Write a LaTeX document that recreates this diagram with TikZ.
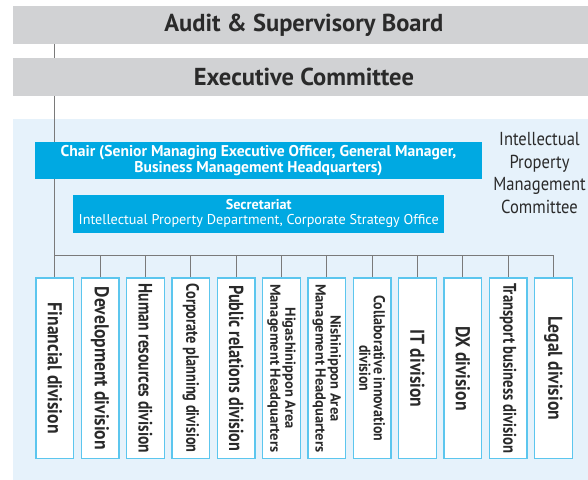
\documentclass[tikz,border=0pt]{standalone}
\usepackage{fontspec}
\setmainfont{PT Sans}[FakeStretch=0.88]
\newfontfamily\plainsans{PT Sans}
\newfontfamily\tightsans{PT Sans}[FakeStretch=0.80]
\usepackage{xcolor}
\usetikzlibrary{positioning}
\definecolor{bandgray}{HTML}{D1D2D4}
\definecolor{panelblue}{HTML}{E6F2FB}
\definecolor{chaircyan}{HTML}{00A9E2}
\definecolor{boxcyan}{HTML}{5CC6EE}
\definecolor{wiregray}{HTML}{7A7A7A}
\definecolor{inkgray}{HTML}{2A2A2A}
\pgfdeclarelayer{panel}
\pgfdeclarelayer{wires}
\pgfsetlayers{panel,wires,main}

\begin{document}
\begin{tikzpicture}[
    x=1pt, y=-1pt,
    band/.style={
        fill=bandgray,
        minimum width=582pt,
        minimum height=37.7pt,
        inner sep=0pt,
        text=inkgray,
        font=\plainsans\fontsize{24.5}{27}\selectfont\bfseries
    },
    cyanbox/.style={
        fill=chaircyan,
        minimum height=37.7pt,
        inner sep=0pt,
        align=center,
        text=white
    },
    divbox/.style={
        draw=boxcyan,
        line width=1.2pt,
        fill=white,
        rotate=-90,
        minimum width=180.7pt,
        minimum height=37.6pt,
        inner sep=0pt,
        align=center,
        text=inkgray,
        font=\fontsize{20}{22}\selectfont\bfseries
    },
    twoline/.style={font=\plainsans\fontsize{14.5}{15}\selectfont\bfseries},
    wire/.style={draw=wiregray, line width=1.2pt}
]
\useasboundingbox (0,0) rectangle (588,479);

% Board and committee bands
\node[band] (audit) at (303.9,24.9) {Audit \& Supervisory Board};
\node[band] (exec) at (303.9,76.9) {Executive Committee};

% Committee panel
\begin{pgfonlayer}{panel}
\fill[panelblue] (12.7,118.7) rectangle (595,485);
\end{pgfonlayer}

\node[cyanbox, minimum width=447pt, font=\plainsans\fontsize{15.6}{16.7}\selectfont\bfseries] (chair) at (258.5,160.5)
    {Chair (Senior Managing Executive Officer, General Manager,\\Business Management Headquarters)};
\node[cyanbox, minimum width=370.7pt, font=\plainsans\fontsize{14.2}{15}\selectfont] (secretariat) at (258.7,213.8)
    {\bfseries Secretariat\\Intellectual Property Department, Corporate Strategy Office};
\node[align=center, text=inkgray, font=\fontsize{18.8}{22.7}\selectfont] (ipmc) at (539.5,173)
    {Intellectual\\Property\\Management\\Committee};

% Divisions (rotated, so .west is the top edge)
\node[divbox] (fin) at (54.8,368.35) {Financial division};
\node[divbox] (dev) at (100.1,368.35) {Development division};
\node[divbox, font=\tightsans\fontsize{19.4}{22}\selectfont\bfseries] (hr) at (145.5,368.35) {Human resources division};
\node[divbox, font=\tightsans\fontsize{17.9}{22}\selectfont\bfseries] (corp) at (190.8,368.35) {Corporate planning division};
\node[divbox, font=\tightsans\fontsize{20.3}{22}\selectfont\bfseries] (pr) at (236.1,368.35) {Public relations division};
\node[divbox, twoline] (east) at (281.5,368.35) {Higashinippon Area\\Management Headquarters};
\node[divbox, twoline] (west) at (326.8,368.35) {Nishinippon Area\\Management Headquarters};
\node[divbox, font=\fontsize{15.8}{14.5}\selectfont\bfseries] (collab) at (372.1,368.35) {Collaborative innovation\\division};
\node[divbox] (it) at (417.4,368.35) {IT division};
\node[divbox] (dx) at (462.8,368.35) {DX division};
\node[divbox, font=\tightsans\fontsize{18.4}{22}\selectfont\bfseries] (transport) at (508.1,368.35) {Transport business division};
\node[divbox] (legal) at (553.4,368.35) {Legal division};

% Connectors
\coordinate (bus) at (0,255.3);
\begin{pgfonlayer}{wires}
\draw[wire] (audit.south -| fin.west) -- (bus -| fin.west);
\draw[wire] (bus -| fin.west) -- (bus -| legal.west);
\end{pgfonlayer}
\draw[wire] (bus -| fin.west) -- (fin.west);
\draw[wire] (bus -| dev.west) -- (dev.west);
\draw[wire] (bus -| hr.west) -- (hr.west);
\draw[wire] (bus -| corp.west) -- (corp.west);
\draw[wire] (bus -| pr.west) -- (pr.west);
\draw[wire] (bus -| east.west) -- (east.west);
\draw[wire] (bus -| west.west) -- (west.west);
\draw[wire] (bus -| collab.west) -- (collab.west);
\draw[wire] (bus -| it.west) -- (it.west);
\draw[wire] (bus -| dx.west) -- (dx.west);
\draw[wire] (bus -| transport.west) -- (transport.west);
\draw[wire] (bus -| legal.west) -- (legal.west);

\end{tikzpicture}
\end{document}
